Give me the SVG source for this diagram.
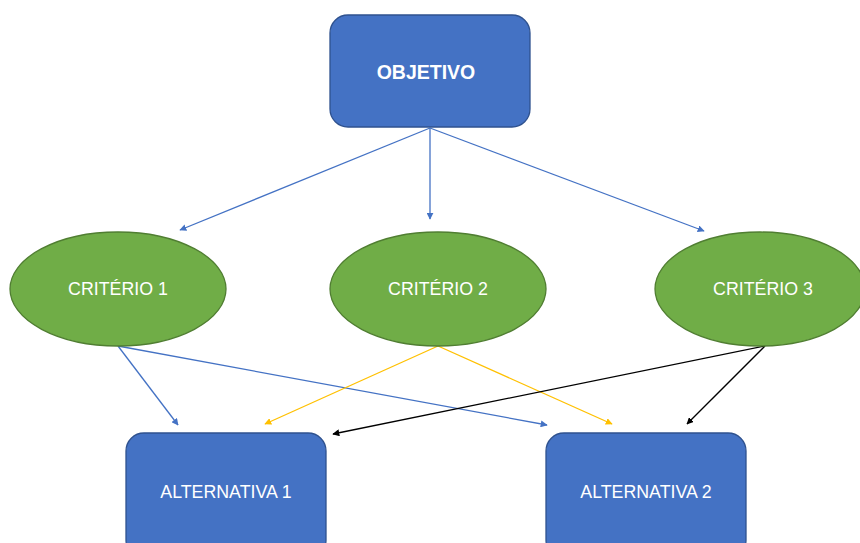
<svg xmlns="http://www.w3.org/2000/svg" width="860" height="543" viewBox="0 0 860 543">
<defs>
<style>
.box{fill:#4472C4;stroke:#2F528F;stroke-width:1.3}
.ell{fill:#70AD47;stroke:#507E32;stroke-width:1.3}
.t{font-family:"Liberation Sans",Arial,sans-serif;font-size:17.8px;fill:#fff;text-anchor:middle;dominant-baseline:central}
.b{font-weight:bold;font-size:19.5px}
.c{fill:none;stroke-width:1.3}
.blue{stroke:#4472C4}
.yel{stroke:#FFC000}
.blk{stroke:#000}
</style>
<marker id="ab" viewBox="0 0 10 10" refX="9" refY="5" markerWidth="7" markerHeight="7" orient="auto" markerUnits="userSpaceOnUse"><path d="M0,0L10,5L0,10z" fill="#4472C4"/></marker>
<marker id="ay" viewBox="0 0 10 10" refX="9" refY="5" markerWidth="7" markerHeight="7" orient="auto" markerUnits="userSpaceOnUse"><path d="M0,0L10,5L0,10z" fill="#FFC000"/></marker>
<marker id="ak" viewBox="0 0 10 10" refX="9" refY="5" markerWidth="7" markerHeight="7" orient="auto" markerUnits="userSpaceOnUse"><path d="M0,0L10,5L0,10z" fill="#000"/></marker>
</defs>
<rect width="860" height="543" fill="#fff"/>
<g id="connectors">
<line class="c blue" x1="430" y1="128" x2="180" y2="230" marker-end="url(#ab)"/>
<line class="c blue" x1="430" y1="128" x2="430" y2="219" marker-end="url(#ab)"/>
<line class="c blue" x1="430" y1="128" x2="704" y2="231" marker-end="url(#ab)"/>
<line class="c blue" x1="118" y1="346" x2="178" y2="425" marker-end="url(#ab)"/>
<line class="c blue" x1="118" y1="346" x2="547" y2="425" marker-end="url(#ab)"/>
<line class="c yel" x1="438" y1="346" x2="265" y2="424" marker-end="url(#ay)"/>
<line class="c yel" x1="438" y1="346" x2="612" y2="424" marker-end="url(#ay)"/>
<line class="c blk" x1="765" y1="346" x2="333" y2="434" marker-end="url(#ak)"/>
<line class="c blk" x1="765" y1="346" x2="687" y2="424" marker-end="url(#ak)"/>
</g>
<g id="objetivo"><rect class="box" x="330" y="15" width="200" height="112" rx="18"/><text class="t b" x="426" y="72">OBJETIVO</text></g>
<g id="criterio1"><ellipse class="ell" cx="118" cy="289" rx="108" ry="57"/><text class="t" x="118" y="289">CRITÉRIO 1</text></g>
<g id="criterio2"><ellipse class="ell" cx="438" cy="289" rx="108" ry="57"/><text class="t" x="438" y="289">CRITÉRIO 2</text></g>
<g id="criterio3"><ellipse class="ell" cx="760" cy="289" rx="105" ry="57"/><text class="t" x="763" y="289">CRITÉRIO 3</text></g>
<g id="alternativa1"><rect class="box" x="126" y="433" width="200" height="125" rx="18"/><text class="t" x="226" y="492">ALTERNATIVA 1</text></g>
<g id="alternativa2"><rect class="box" x="546" y="433" width="200" height="125" rx="18"/><text class="t" x="646" y="492">ALTERNATIVA 2</text></g>
</svg>
